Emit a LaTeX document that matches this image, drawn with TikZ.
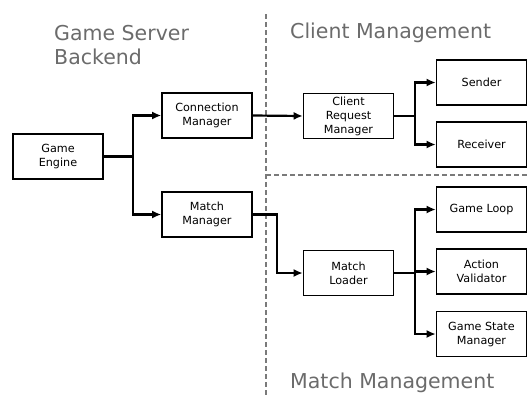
\documentclass[tikz,border=0pt]{standalone}
\usepackage{fontspec}
\setmainfont{DejaVu Sans}
\usetikzlibrary{arrows.meta}

\definecolor{titlegray}{HTML}{6B6B6B}
\definecolor{linegray}{HTML}{7A7A7A}

\tikzset{
	block/.style={draw, line width=1.6pt, minimum width=90pt, minimum height=45pt,
		align=center, inner sep=1pt, font=\fontsize{11.2}{14}\selectfont},
	link/.style={line width=2.2pt},
	title/.style={text=titlegray, align=left, anchor=west, inner sep=0pt,
		font=\fontsize{20.5}{24}\selectfont},
	divider/.style={linegray, line width=2.4pt, dash pattern=on 5pt off 3pt}
}

\begin{document}
\begin{tikzpicture}[x=1pt,y=-1pt,>={Latex[length=9pt,width=8pt]}]
	
	\useasboundingbox (0,0) rectangle (529,397);
	
	% Draw the dividing lines
	\draw[divider] (266,14) -- (266,397);
	\draw[divider] (266,175) -- (529,175);
	
	% Draw the area titles
	\node[title] (backend) at (54,45) {Game Server\\Backend};
	\node[title] (clienttitle) at (290,33) {Client Management};
	\node[title] (matchtitle) at (290,383) {Match Management};
	
	% Draw the blocks
	\node[block] (engine) at (58,156.5) {Game\\Engine};
	\node[block] (conn) at (207,115.5) {Connection\\Manager};
	\node[block] (matchmgr) at (207,214.5) {Match\\Manager};
	\node[block] (request) at (348.5,116) {Client\\Request\\Manager};
	\node[block] (sender) at (481.5,82.5) {Sender};
	\node[block] (receiver) at (481.5,144.5) {Receiver};
	\node[block] (loader) at (348.5,273) {Match\\Loader};
	\node[block] (loop) at (481.5,209.5) {Game Loop};
	\node[block] (validator) at (481.5,271.5) {Action\\Validator};
	\node[block] (state) at (481.5,334) {Game State\\Manager};
	
	% Draw the branch points
	\coordinate (engjoin) at (133,156.5);
	\coordinate (matchjoin) at (277,214.5);
	\coordinate (reqjoin) at (415,116);
	\coordinate (loadjoin) at (415,273);
	
	% Draw the connections
	\draw[link] (engine.east) -- (engjoin);
	\draw[link,->] (engjoin) |- (conn.west);
	\draw[link,->] (engjoin) |- (matchmgr.west);
	\draw[link,->] (conn.east) -- (request.west);
	\draw[link,->] (matchmgr.east) -- (matchjoin) |- (loader.west);
	\draw[link] (request.east) -- (reqjoin);
	\draw[link,->] (reqjoin) |- (sender.west);
	\draw[link,->] (reqjoin) |- (receiver.west);
	\draw[link] (loader.east) -- (loadjoin);
	\draw[link,->] (loadjoin) |- (loop.west);
	\draw[link,->] (loadjoin) |- (validator.west);
	\draw[link,->] (loadjoin) |- (state.west);

\end{tikzpicture}
\end{document}
